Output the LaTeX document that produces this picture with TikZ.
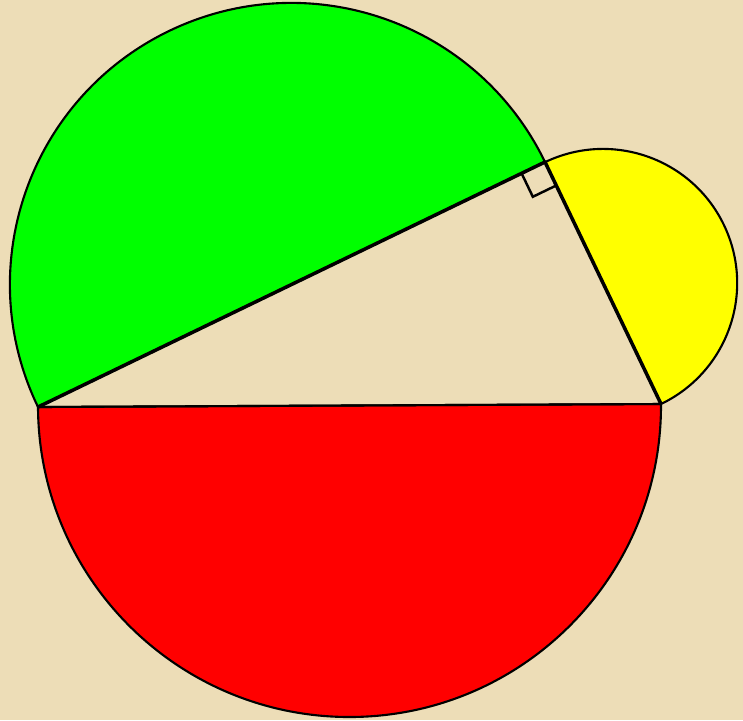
\documentclass[tikz,border=0pt]{standalone}
\usetikzlibrary{calc}
\definecolor{parchment}{RGB}{237,221,183}
\definecolor{pureyellow}{RGB}{255,255,0}
\newcommand{\halfdisc}[3]{%
  \filldraw[fill=#3,draw=black,line width=0.6pt]
    let \p1=($(#2)-(#1)$), \n1={atan2(\y1,\x1)}, \n2={veclen(\x1,\y1)/2}
    in (#1) arc[start angle=\n1+180, end angle=\n1+360, radius=\n2] -- cycle;}
\begin{document}
\begin{tikzpicture}[x=0.01cm,y=0.01cm]
\useasboundingbox (0,0) rectangle (743,720);
\clip (0,0) rectangle (743,720);
\fill[parchment] (0,0) rectangle (743,720);

\coordinate (A) at (38,313);
\coordinate (B) at (661,316);
\coordinate (C) at (545,558);

% semicircles on the three sides
\halfdisc{A}{B}{red}
\halfdisc{C}{A}{green}
\halfdisc{B}{C}{pureyellow}

% triangle
\draw[line width=0.6pt] (A) -- (B);
\draw[line width=1pt,line join=round] (B) -- (C) -- (A);

% right angle mark
\coordinate (ca) at ($(C)!0.26cm!(A)$);
\coordinate (cb) at ($(C)!0.26cm!(B)$);
\draw[line width=0.7pt] (ca) -- ($(ca)+(cb)-(C)$) -- (cb);
\end{tikzpicture}
\end{document}
